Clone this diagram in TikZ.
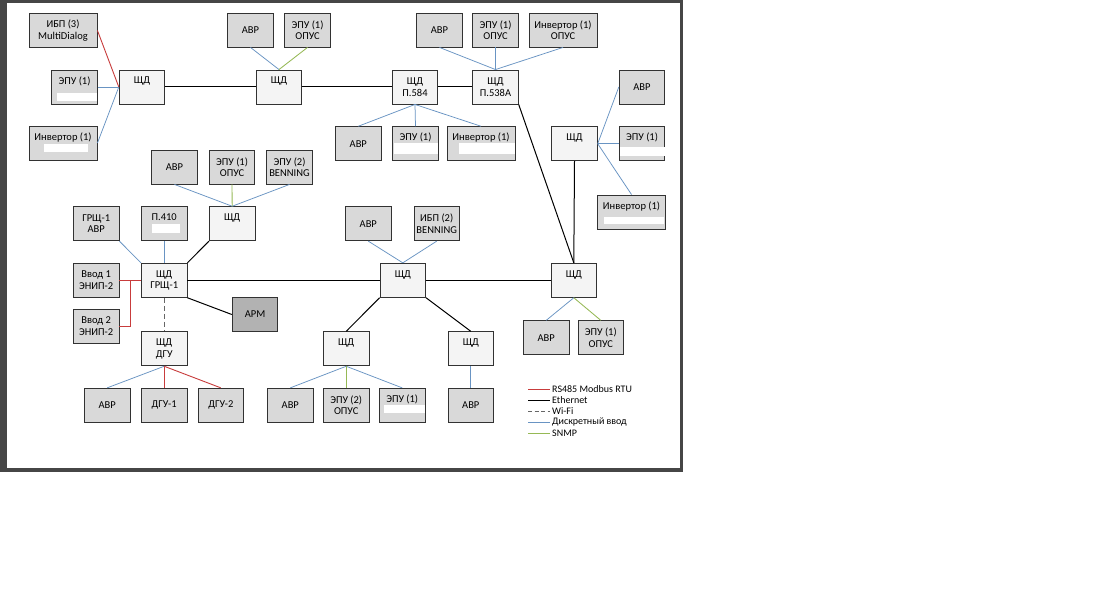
\documentclass[tikz,border=0pt]{standalone}
\usepackage{fontspec}
\setmainfont{Carlito}
\definecolor{boxgray}{RGB}{217,217,217}
\definecolor{shdfill}{RGB}{244,244,244}
\definecolor{armfill}{RGB}{178,178,178}
\definecolor{bordc}{RGB}{50,50,50}
\definecolor{rsred}{RGB}{200,60,60}
\definecolor{diblue}{RGB}{105,148,195}
\definecolor{snmpgreen}{RGB}{150,185,85}
\definecolor{framec}{RGB}{70,70,70}
\begin{document}
\begin{tikzpicture}[x=1pt,y=-1pt,
  box/.style={draw=bordc, line width=0.9pt, fill=boxgray, minimum width=45.5pt, minimum height=34pt, inner sep=0pt, align=center, font=\fontsize{10.5}{11.5}\selectfont},
  widebox/.style={box, minimum width=68pt},
  shdbox/.style={box, fill=shdfill},
  armbox/.style={box, fill=armfill},
  eth/.style={draw=black, line width=1pt},
  rs/.style={draw=rsred, line width=0.9pt},
  di/.style={draw=diblue, line width=0.75pt},
  snmp/.style={draw=snmpgreen, line width=0.85pt},
  wifi/.style={draw=black!60, line width=1.3pt, dash pattern=on 5pt off 3pt},
  redact/.style={fill=white},
  legtext/.style={anchor=west, inner sep=0pt, font=\fontsize{10}{12}\selectfont}
]
\useasboundingbox (0,0) rectangle (1093,615);
\fill[white] (0,0) rectangle (1093,615);
% frame
\fill[framec] (0,0) rectangle (7,471.5);
\fill[framec] (0,0) rectangle (683,3);
\fill[framec] (680,0) rectangle (683,471.5);
\fill[framec] (0,467.5) rectangle (683,471.5);

\newcommand{\blank}{\phantom{Щ}}
% top-left group
\node[widebox] (ibp3) at (63,30.5) {ИБП (3)\\MultiDialog};
\node[box] (epu1l) at (74.5,87) {ЭПУ (1)\\\blank};
\node[widebox] (invl) at (63,143) {Инвертор (1)\\\blank};
\node[shdbox] (shd1) at (142,87) {ЩД\\\blank};
% top
\node[box] (avr1) at (250.5,30) {АВР};
\node[box] (epuop1) at (307.5,30) {ЭПУ (1)\\ОПУС};
\node[shdbox] (shd2) at (279,87) {ЩД\\\blank};
\node[shdbox] (p584) at (415,87) {ЩД\\П.584};
\node[shdbox] (p538) at (495.5,87) {ЩД\\П.538А};
\node[box] (avr2) at (439.5,30) {АВР};
\node[box] (epuop2) at (495.5,30) {ЭПУ (1)\\ОПУС};
\node[widebox] (invop) at (563,30) {Инвертор (1)\\ОПУС};
\node[box] (avr3) at (358.3,143.7) {АВР};
\node[box] (epu3) at (415.5,143.7) {ЭПУ (1)\\\blank};
\node[widebox] (inv3) at (481,143.7) {Инвертор (1)\\\blank};
% right upper
\node[shdbox] (shdr) at (574.5,143.7) {ЩД\\\blank};
\node[box] (avr4) at (642,87) {АВР};
\node[box] (epu4) at (642,143.7) {ЭПУ (1)\\\blank};
\node[widebox] (inv4) at (631.5,212) {Инвертор (1)\\\blank};
% left middle
\node[box] (avr5) at (174.5,167) {АВР};
\node[box] (epuop5) at (232,167) {ЭПУ (1)\\ОПУС};
\node[box] (epub) at (289.5,167) {ЭПУ (2)\\BENNING};
\node[box] (grshavr) at (96.2,223.7) {ГРЩ-1\\АВР};
\node[box] (p410) at (164.2,223.7) {П.410\\\blank};
\node[shdbox] (p3) at (232.2,223.7) {ЩД\\\blank};
\node[box] (vvod1) at (96.2,280.3) {Ввод 1\\ЭНИП-2};
\node[shdbox] (grsh) at (164.2,280.3) {ЩД\\ГРЩ-1};
\node[box] (vvod2) at (96.2,326) {Ввод 2\\ЭНИП-2};
\node[armbox] (arm) at (255,314.5) {АРМ};
\node[shdbox] (dgu) at (164.2,348.8) {ЩД\\ДГУ};
\node[box] (avr8) at (107.2,405.3) {АВР};
\node[box] (dgu1) at (164.2,405.3) {ДГУ-1};
\node[box] (dgu2) at (220.8,405.3) {ДГУ-2};
% center
\node[box] (avr6) at (368.3,223.7) {АВР};
\node[box] (ibp2) at (436.7,223.7) {ИБП (2)\\BENNING};
\node[shdbox] (shdc) at (402.8,280.3) {ЩД\\\blank};
\node[shdbox] (shdrm) at (573.8,280.3) {ЩД\\\blank};
\node[box] (avr7) at (546.2,337.8) {АВР};
\node[box] (epuop7) at (600.8,337.8) {ЭПУ (1)\\ОПУС};
\node[shdbox] (shdlm) at (346.2,348.8) {ЩД\\\blank};
\node[shdbox] (shdlr) at (470.8,348.8) {ЩД\\\blank};
\node[box] (avr9) at (290.3,405.3) {АВР};
\node[box] (epuop9) at (346.2,405.3) {ЭПУ (2)\\ОПУС};
\node[box] (epu9) at (402.2,405.3) {ЭПУ (1)\\\blank};
\node[box] (avr10) at (470.8,405.3) {АВР};

% redacted patches
\fill[redact] (57,93) rectangle (96.5,101.5);
\fill[redact] (43.5,144) rectangle (87.5,152.5);
\fill[redact] (151.5,224) rectangle (180,232.5);
\fill[redact] (393.5,143.5) rectangle (438,154);
\fill[redact] (458.5,143.5) rectangle (514.5,154);
\fill[redact] (620,147) rectangle (664.5,156);
\fill[redact] (603.5,216.5) rectangle (663.5,224);
\fill[redact] (383.5,405) rectangle (424.5,413);

% Ethernet
\draw[eth] (shd1) -- (shd2);
\draw[eth] (shd2) -- (p584);
\draw[eth] (p584) -- (p538);
\draw[eth] (p538.south east) -- (shdrm.north);
\draw[eth] (shdr.south) -- (shdrm.north);
\draw[eth] (grsh) -- (shdc);
\draw[eth] (shdc) -- (shdrm);
\draw[eth] (grsh.north east) -- (p3.south west);
\draw[eth] (grsh.south east) -- (arm.west);
\draw[eth] (shdc.south west) -- (shdlm.north);
\draw[eth] (shdc.south east) -- (shdlr.north);
% Wi-Fi
\draw[wifi] (grsh.south) -- (dgu.north);
% RS485
\draw[rs] (ibp3.east) -- (shd1.west);
\draw[rs] (vvod1.east) -- (grsh.west);
\coordinate (vj) at (130.5,280.3);
\draw[rs] (vvod2.east) -| (vj);
\draw[rs] (dgu.south) -- (dgu1.north);
\draw[rs] (dgu.south) -- (dgu2.north);
% Discrete input
\draw[di] (epu1l.east) -- (shd1.west);
\draw[di] (invl.east) -- (shd1.west);
\draw[di] (avr1.south) -- (shd2.north);
\draw[di] (avr2.south) -- (p538.north);
\draw[di] (epuop2.south) -- (p538.north);
\draw[di] (invop.south) -- (p538.north);
\draw[di] (p584.south) -- (avr3.north);
\draw[di] (p584.south) -- (epu3.north);
\draw[di] (p584.south) -- (inv3.north);
\draw[di] (shdr.east) -- (avr4.west);
\draw[di] (shdr.east) -- (epu4.west);
\draw[di] (shdr.east) -- (inv4.north);
\draw[di] (p3.north) -- (avr5.south);
\draw[di] (p3.north) -- (epub.south);
\draw[di] (grshavr.south east) -- (grsh.north west);
\draw[di] (p410.south) -- (grsh.north);
\draw[di] (shdc.north) -- (avr6.south);
\draw[di] (shdc.north) -- (ibp2.south);
\draw[di] (shdrm.south) -- (avr7.north);
\draw[di] (dgu.south) -- (avr8.north);
\draw[di] (shdlm.south) -- (avr9.north);
\draw[di] (shdlm.south) -- (epu9.north);
\draw[di] (shdlr.south) -- (avr10.north);
% SNMP
\draw[snmp] (epuop1.south) -- (shd2.north);
\draw[snmp] (epuop5.south) -- (p3.north);
\draw[snmp] (shdrm.south) -- (epuop7.north);
\draw[snmp] (shdlm.south) -- (epuop9.north);

% legend
\coordinate (la1) at (528,389.5); \coordinate (lb1) at (550,389.5);
\coordinate (la2) at (528,400.5); \coordinate (lb2) at (550,400.5);
\coordinate (la3) at (528,411.5); \coordinate (lb3) at (550,411.5);
\coordinate (la4) at (528,422.5); \coordinate (lb4) at (550,422.5);
\coordinate (la5) at (528,433.5); \coordinate (lb5) at (550,433.5);
\draw[rs, line width=1pt] (la1) -- (lb1);
\draw[eth, line width=0.9pt] (la2) -- (lb2);
\draw[wifi, line width=0.9pt, dash pattern=on 4pt off 2.5pt] (la3) -- (lb3);
\draw[di, line width=1pt] (la4) -- (lb4);
\draw[snmp, line width=1pt] (la5) -- (lb5);
\node[legtext] (lt1) at (552,389) {RS485 Modbus RTU};
\node[legtext] (lt2) at (552,400) {Ethernet};
\node[legtext] (lt3) at (552,411) {Wi-Fi};
\node[legtext] (lt4) at (552,422) {Дискретный ввод};
\node[legtext] (lt5) at (552,433) {SNMP};
\end{tikzpicture}
\end{document}
